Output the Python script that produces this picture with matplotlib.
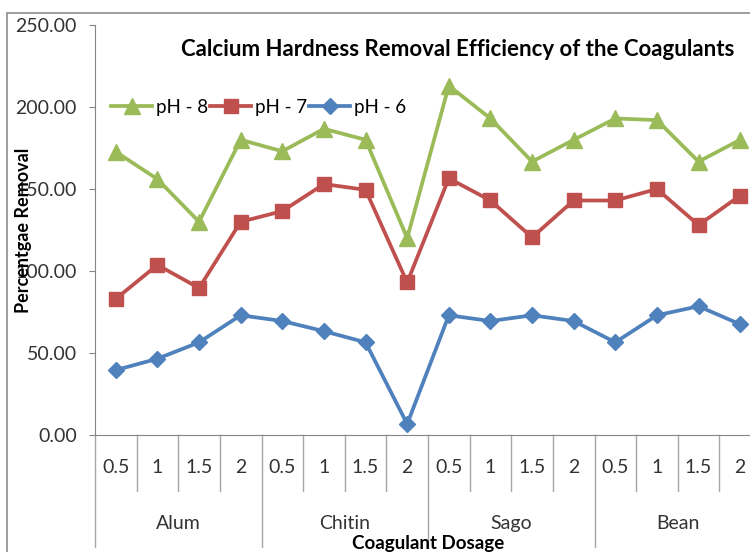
import matplotlib
matplotlib.use("Agg")
import matplotlib.pyplot as plt
from matplotlib.patches import Rectangle

plt.rcParams['font.family'] = ['Lato', 'DejaVu Sans']

groups = ['Alum', 'Chitin', 'Sago', 'Bean']
dosages = ['0.5', '1', '1.5', '2']
ph8 = [172.7, 156.0, 130.0, 180.0, 173.0, 186.7, 180.0, 120.0,
       213.0, 193.0, 166.7, 180.0, 193.0, 192.0, 166.7, 180.0]
ph7 = [83.0, 103.7, 89.6, 130.0, 136.5, 153.0, 149.5, 93.0,
       156.5, 143.0, 120.5, 143.0, 143.0, 150.0, 128.0, 146.0]
ph6 = [39.6, 46.5, 56.5, 73.0, 69.5, 63.3, 56.5, 6.7,
       73.0, 69.5, 73.0, 69.5, 56.5, 73.0, 78.5, 67.5]

W, H = 750, 552
fig = plt.figure(figsize=(W / 100, H / 100), dpi=100)
ax = fig.add_axes([95 / W, (H - 435) / H, (761 - 95) / W, 410 / H])

# chart border (Excel style)
fig.patches.append(Rectangle((7 / W, -0.1), 1.2, (H - 13) / H + 0.1,
                             transform=fig.transFigure, fill=False,
                             edgecolor='#8c8c8c', linewidth=1.2))

x = list(range(len(ph8)))
lw = 2.7
ax.plot(x, ph8, color='#9BBB59', marker='^', markersize=11, linewidth=lw, label='pH - 8')
ax.plot(x, ph7, color='#C0504D', marker='s', markersize=10, linewidth=lw, label='pH - 7')
ax.plot(x, ph6, color='#4F81BD', marker='D', markersize=8, linewidth=lw, label='pH - 6')

ax.set_xlim(-0.5, 15.5)
ax.set_ylim(0, 250)
ax.set_yticks([0, 50, 100, 150, 200, 250])
ax.set_yticklabels(['%.2f' % v for v in [0, 50, 100, 150, 200, 250]], fontsize=14, color='#333333')
ax.tick_params(axis='y', length=4, color='#868686', pad=9)
ax.set_xticks([])
for s in ['top', 'right']:
    ax.spines[s].set_visible(False)
for s in ['left', 'bottom']:
    ax.spines[s].set_color('#868686')

# multi-level category axis
tr = ax.get_xaxis_transform()
for i in range(len(ph8) + 1):
    xb = i - 0.5
    y_end = -0.273 if i % 4 == 0 else -0.137
    ax.plot([xb, xb], [0, y_end], color='#a6a6a6', linewidth=1,
            transform=tr, clip_on=False)
for i in range(len(ph8)):
    ax.text(i, -0.080, dosages[i % 4], transform=tr, ha='center', va='center',
            fontsize=14, color='#333333')
for g, name in enumerate(groups):
    ax.text(g * 4 + 1.5, -0.215, name, transform=tr, ha='center', va='center',
            fontsize=14, color='#333333')
ax.text(7.5, -0.265, 'Coagulant Dosage', transform=tr, ha='center', va='center',
        fontsize=13.5, fontweight='bold')

fig.text(24 / W, 1 - 230 / H, 'Percentgae Removal', rotation=90, ha='center',
         va='center', fontsize=13, fontweight='bold')
fig.text(458 / W, 1 - 50 / H, 'Calcium Hardness Removal Efficiency of the Coagulants',
         ha='center', va='center', fontsize=16, fontweight='bold')

ax.legend(loc='center left', bbox_to_anchor=(0.024, 200 / 250), ncol=3, frameon=False,
          fontsize=13.5, handlelength=2.2, handletextpad=0.2, columnspacing=0.1,
          borderaxespad=0, borderpad=0)

fig.savefig('out.png', dpi=100)
